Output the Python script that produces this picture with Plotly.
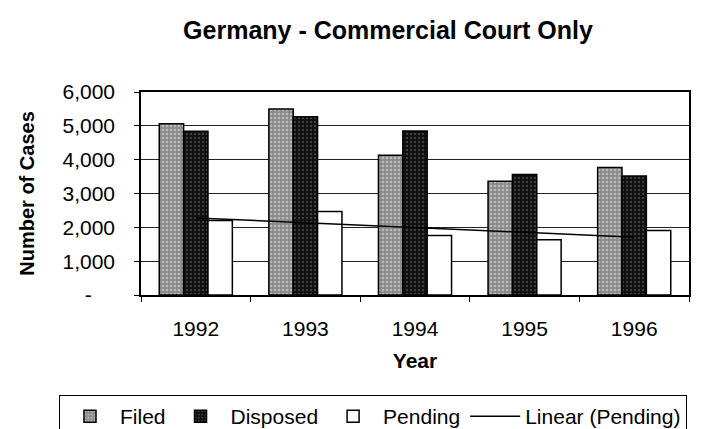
import numpy as np
import plotly.graph_objects as go

years = ["1992", "1993", "1994", "1995", "1996"]
filed = [5060, 5500, 4130, 3360, 3770]
disposed = [4840, 5270, 4850, 3560, 3520]
pending = [2200, 2470, 1760, 1630, 1910]

y_tickvals = [0, 1000, 2000, 3000, 4000, 5000, 6000]
y_ticktext = ["-" + "\u00a0" * 4, "1,000", "2,000", "3,000", "4,000", "5,000", "6,000"]

# Linear trendline of Pending (least squares fit over the categories)
xi = np.arange(1, len(pending) + 1)
slope, intercept = np.polyfit(xi, pending, 1)
trend = (slope * xi + intercept).tolist()

FONT = "Liberation Sans, Arial, sans-serif"

fig = go.Figure()
fig.add_trace(go.Bar(
    name="Filed", x=years, y=filed,
    marker=dict(color="#8a8a8a", line=dict(color="black", width=1.5),
                pattern=dict(shape=".", fgcolor="#ececec", size=4, solidity=0.35)),
))
fig.add_trace(go.Bar(
    name="Disposed", x=years, y=disposed,
    marker=dict(color="#111111", line=dict(color="black", width=1.5),
                pattern=dict(shape=".", fgcolor="#8a8a8a", size=4, solidity=0.2)),
))
fig.add_trace(go.Bar(
    name="Pending", x=years, y=pending,
    marker=dict(color="white", line=dict(color="black", width=1.5)),
))
fig.add_trace(go.Scatter(
    name="Linear (Pending)", x=years, y=trend, mode="lines",
    line=dict(color="black", width=1.5),
))

fig.update_layout(
    width=702, height=429,
    paper_bgcolor="white", plot_bgcolor="white",
    font=dict(family=FONT, size=21, color="black"),
    margin=dict(l=133, r=21, t=84, b=142, autoexpand=False),
    barmode="group", bargap=0.333, bargroupgap=0,
    title=dict(text="<b>Germany - Commercial Court Only</b>",
               x=380 / 702, xanchor="center", xref="container",
               y=1 - 22 / 429, yanchor="middle", yref="container",
               font=dict(size=25, family=FONT)),
    legend=dict(orientation="h", x=(51 - 133) / 548, xanchor="left",
                y=(287 - 387) / 203, yanchor="top",
                bordercolor="black", borderwidth=1,
                font=dict(size=21, family=FONT),
                itemwidth=50, tracegroupgap=0, traceorder="normal"),
    showlegend=True,
)

fig.update_xaxes(
    type="category", range=[-0.5, 4.5],
    showline=True, linecolor="black", linewidth=1.5, mirror=True,
    ticks="outside", tickson="boundaries", ticklen=5, tickcolor="black",
    ticklabelstandoff=14,
    title=dict(text="<b>Year</b>", font=dict(size=21, family=FONT), standoff=14),
)
fig.update_yaxes(
    range=[0, 6000], tickvals=y_tickvals, ticktext=y_ticktext,
    showline=True, linecolor="black", linewidth=1.5, mirror=True,
    showgrid=True, gridcolor="#222222", gridwidth=1.2,
    ticks="outside", ticklen=5, tickcolor="black",
    ticklabelstandoff=15, zeroline=False,
    title=dict(text="<b>Number of Cases</b>", font=dict(size=20, family=FONT), standoff=22),
)

fig.write_html("out.html")
